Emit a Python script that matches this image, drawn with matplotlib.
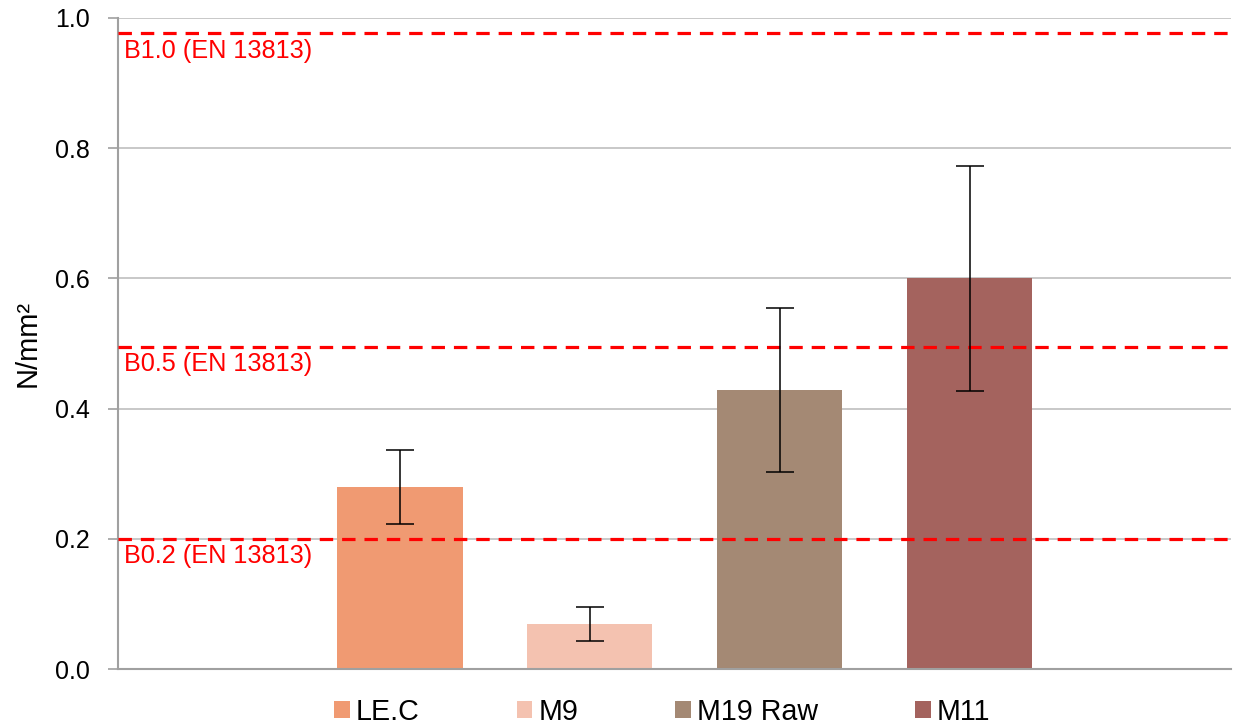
import matplotlib.pyplot as plt
from matplotlib.transforms import blended_transform_factory

# Data
labels = ['LE.C', 'M9', 'M19 Raw', 'M11']
values = [0.279, 0.069, 0.429, 0.600]
errors = [0.057, 0.026, 0.126, 0.173]
colors = ['#F09A72', '#F4C2B0', '#A48974', '#A4635E']

ref_levels = [0.977, 0.495, 0.200]
ref_labels = ['B1.0 (EN 13813)', 'B0.5 (EN 13813)', 'B0.2 (EN 13813)']

plt.rcParams['font.family'] = ['Liberation Sans', 'DejaVu Sans']

fig = plt.figure(figsize=(12.42, 7.25), dpi=100)
ax = fig.add_axes([0.095, 0.0772, 0.896, 0.898])

x = list(range(len(labels)))
for i in x:
    ax.bar(x[i], values[i], width=0.66, color=colors[i], label=labels[i], zorder=2)
ax.errorbar(x, values, yerr=errors, fmt='none', ecolor='black', elinewidth=1.1,
            capsize=10, capthick=1.1, zorder=4)

# Reference lines with labels just below them
trans = blended_transform_factory(ax.transAxes, ax.transData)
for level, text in zip(ref_levels, ref_labels):
    ax.axhline(level, color='#FF0000', lw=2.3, linestyle=(0, (4.2, 2.8)), zorder=3)
    ax.annotate(text, xy=(0.005, level), xycoords=trans, xytext=(0, -4),
                textcoords='offset points', ha='left', va='top',
                color='#FF0000', fontsize=18.2, zorder=5)

ax.set_ylim(0, 1.0)
ax.set_xlim(-1.485, 4.376)
ax.set_yticks([0.0, 0.2, 0.4, 0.6, 0.8, 1.0])
ax.set_yticklabels(['0.0', '0.2', '0.4', '0.6', '0.8', '1.0'])
ax.set_xticks([])
ax.set_ylabel('N/mm²', fontsize=21)
ax.yaxis.set_label_coords(-0.069, 0.5)

ax.yaxis.grid(True, color='#BFBFBF', lw=1.2, zorder=0)
ax.set_axisbelow(True)
for side in ['top', 'right']:
    ax.spines[side].set_visible(False)
for side in ['left', 'bottom']:
    ax.spines[side].set_color('#A0A0A0')
    ax.spines[side].set_linewidth(1.5)
ax.tick_params(axis='y', colors='#A0A0A0', length=7.5, width=1.2, labelsize=18,
               labelcolor='black', pad=13)

ax.legend(loc='center', bbox_to_anchor=(0.489, -0.066), ncol=4, frameon=False,
          fontsize=20.6, handlelength=0.55, handleheight=0.55, handletextpad=0.2,
          columnspacing=3.4, borderpad=0)

fig.savefig('out.png', dpi=100)
